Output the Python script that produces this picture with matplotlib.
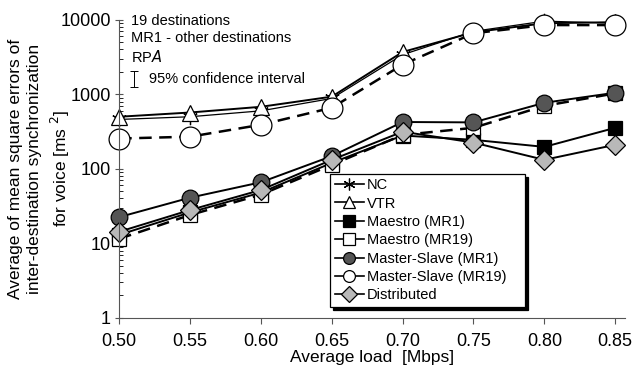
import matplotlib
matplotlib.use('Agg')
import matplotlib.pyplot as plt

plt.rcParams['font.family'] = ['Liberation Sans', 'DejaVu Sans']

load = [0.50, 0.55, 0.60, 0.65, 0.70, 0.75, 0.80, 0.85]
xtick_labels = ['0.50', '0.55', '0.60', '0.65', '0.70', '0.75', '0.80', '0.85']

nc = [460, 500, 600, 880, 3400, 7000, 9600, 9000]
vtr = [500, 570, 680, 930, 3700, 6800, 9000, 9300]
maestro_mr1 = [13, 26, 48, 120, 280, 245, 197, 355]
maestro_mr19 = [11.5, 24, 45, 113, 285, 355, 700, 1030]
ms_mr1 = [22.5, 41, 66, 148, 425, 420, 770, 1050]
ms_mr19 = [255, 270, 390, 660, 2500, 6600, 8500, 8500]
distributed = [14.3, 28, 52, 132, 315, 225, 132, 210]

series = [
    ('NC', nc, dict(marker=(6, 2, 0), ms=11, mfc='k', mec='k', color='k', lw=0.9, ls='-')),
    ('VTR', vtr, dict(marker='^', ms=12, mfc='white', mec='k', color='k', lw=1.4, ls='-')),
    ('Maestro (MR1)', maestro_mr1, dict(marker='s', ms=10, mfc='k', mec='k', color='k', lw=1.4, ls='-')),
    ('Maestro (MR19)', maestro_mr19, dict(marker='s', ms=10, mfc='white', mec='k', color='k', lw=1.8, ls=(0, (5, 3)))),
    ('Master-Slave (MR1)', ms_mr1, dict(marker='o', ms=12, mfc='#555555', mec='k', color='k', lw=1.4, ls='-')),
    ('Master-Slave (MR19)', ms_mr19, dict(marker='o', ms=15, mfc='white', mec='k', color='k', lw=1.8, ls=(0, (5, 3)))),
    ('Distributed', distributed, dict(marker='D', ms=10, mfc='#b8b8b8', mec='k', color='k', lw=1.4, ls='-')),
]

fig = plt.figure(figsize=(6.34, 3.67), dpi=100)
ax = fig.add_axes([0.188, 0.134, 0.798, 0.812])

for name, vals, style in series:
    ax.plot(load, vals, label=name, clip_on=False, mew=0.9, **style)

ax.set_yscale('log')
ax.set_ylim(1, 10000)
ax.set_xlim(0.5, 0.857)
ax.set_xticks(load)
ax.set_xticklabels(xtick_labels)
ax.set_yticks([1, 10, 100, 1000, 10000])
ax.set_yticklabels(['1', '10', '100', '1000', '10000'])
ax.tick_params(axis='both', labelsize=13, color='#555555')
ax.tick_params(axis='y', which='major', direction='inout', length=6, pad=3)
ax.tick_params(axis='y', which='minor', direction='in', length=3)
ax.tick_params(axis='x', direction='out', length=4, pad=7)
for s in ['top', 'right']:
    ax.spines[s].set_visible(False)
for s in ['left', 'bottom']:
    ax.spines[s].set_color('#555555')

ax.set_xlabel('Average load  [Mbps]', fontsize=12.5, labelpad=0)
fig.text(0.063, 0.54, 'Average of mean square errors of\ninter-destination synchronization\nfor voice [ms $^2$]',
         rotation=90, ha='center', va='center', fontsize=12.5, linespacing=1.35)

# annotation block
ax.text(0.024, 0.997, '19 destinations', transform=ax.transAxes, fontsize=10.5, va='center')
ax.text(0.024, 0.94, 'MR1 - other destinations', transform=ax.transAxes, fontsize=10.5, va='center')
ax.text(0.024, 0.876, 'RP$\\it{A}$', transform=ax.transAxes, fontsize=10.5, va='center')
ax.errorbar([0.03], [0.80], yerr=[0.027], transform=ax.transAxes, color='k', lw=0.7, capsize=3, capthick=0.7)
ax.text(0.058, 0.80, '95% confidence interval', transform=ax.transAxes, fontsize=10.5, va='center')

leg = ax.legend(loc='lower left', bbox_to_anchor=(0.417, 0.037, 0.385, 0.443), mode='expand',
                fontsize=10.5, frameon=True, fancybox=False, handlelength=2.0, handletextpad=0.2,
                labelspacing=0.3, borderpad=0.3, borderaxespad=0,
                shadow={'color': 'k', 'alpha': 1.0})
leg.get_frame().set_edgecolor('k')
leg.get_frame().set_linewidth(0.9)
for h in leg.legend_handles:
    h.set_linestyle('-')
    h.set_markersize(8.5)
    h.set_linewidth(1.2)

fig.savefig('out.png', dpi=100)
